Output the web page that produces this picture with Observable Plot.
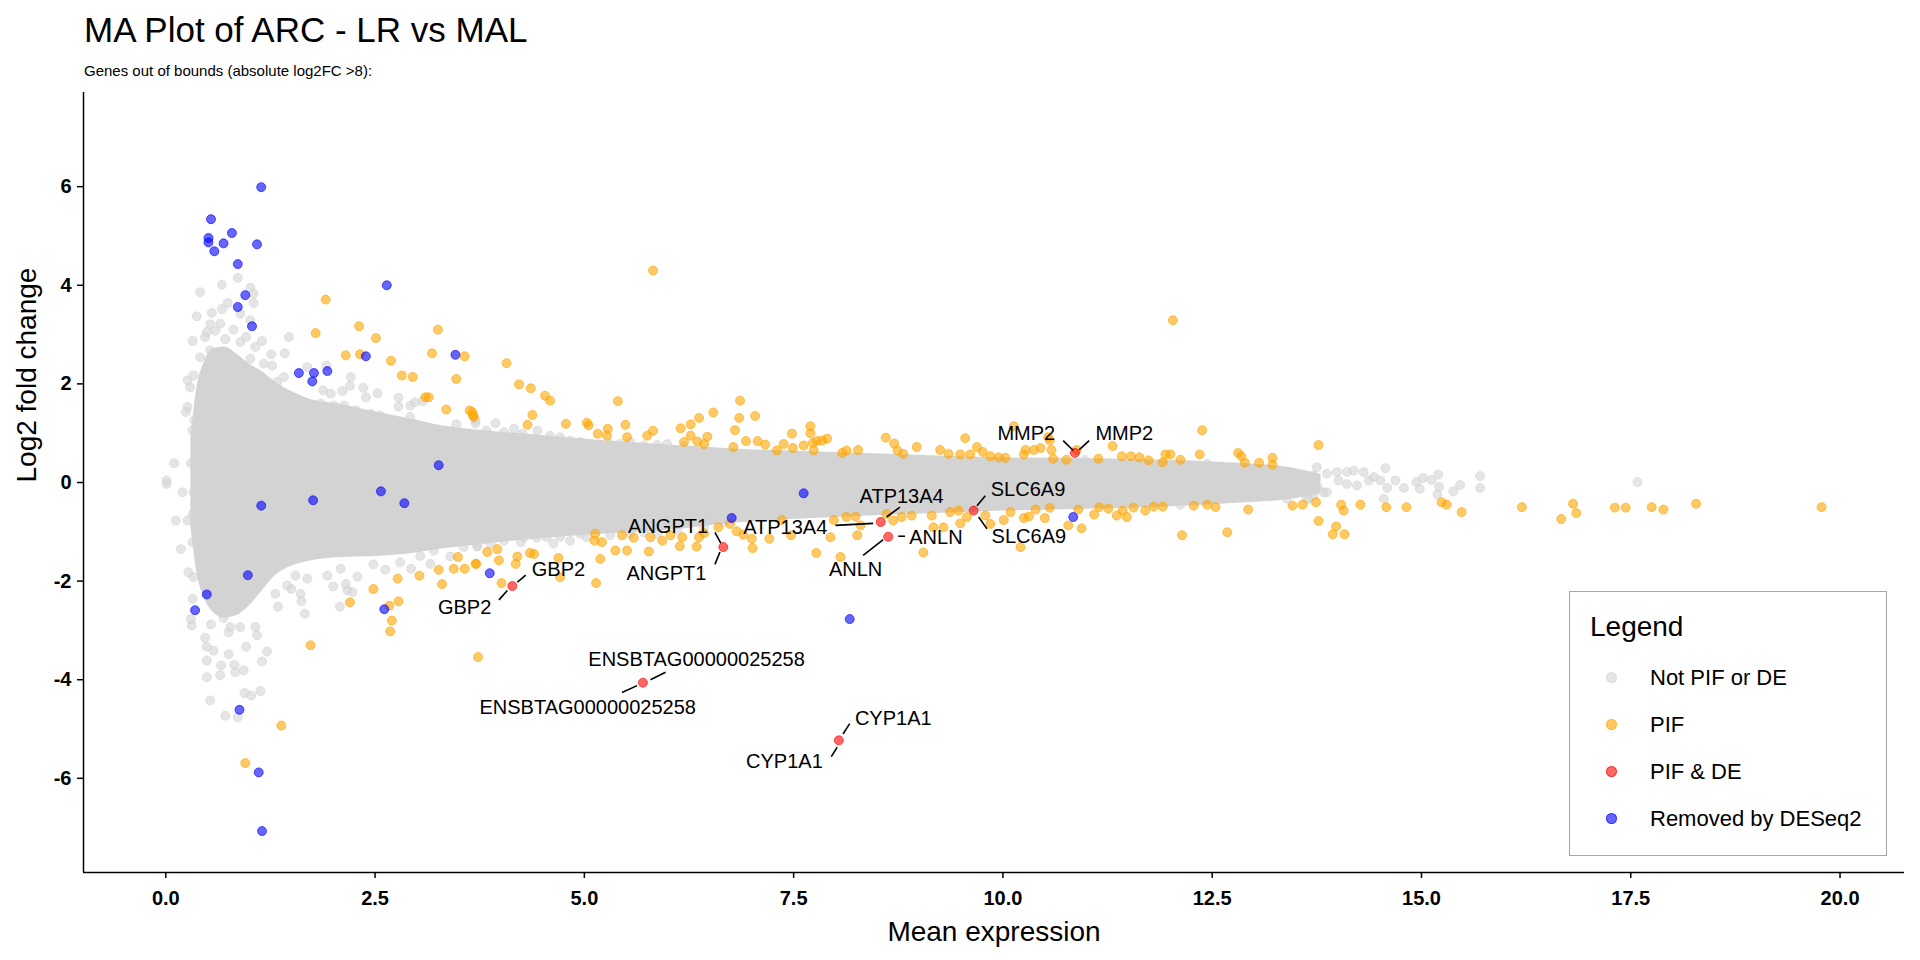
<!DOCTYPE html>
<html><head><meta charset="utf-8">
<script src="https://cdn.jsdelivr.net/npm/d3@7"></script>
<script src="https://cdn.jsdelivr.net/npm/@observablehq/plot@0.6"></script>
<style>
body{margin:0;background:#fff;font-family:"Liberation Sans",Arial,sans-serif;color:#000;}
#wrap{position:relative;width:1920px;height:960px;overflow:hidden;background:#fff;}
#title{position:absolute;left:84px;top:12px;font-size:35px;line-height:35px;white-space:nowrap;}
#subtitle{position:absolute;left:84px;top:63px;font-size:15px;line-height:15px;white-space:nowrap;}
#chart{position:absolute;left:0;top:88px;}
#legend{position:absolute;left:1569px;top:591px;width:316px;height:263px;border:1.5px solid #a6a6a6;background:#fff;}
#legend .lt{position:absolute;left:20px;top:21px;font-size:28px;line-height:28px;white-space:nowrap;}
#legend .it{position:absolute;left:80px;font-size:22px;line-height:22px;white-space:nowrap;}
#legend .dt{position:absolute;width:9px;height:9px;border-radius:50%;border-width:1px;border-style:solid;}
</style></head>
<body><div id="wrap">
<div id="title"></div><div id="subtitle"></div>
<div id="chart"></div>
<div id="legend"></div>
</div>
<script>
const titleText = "MA Plot of ARC - LR vs MAL";
const subtitleText = "Genes out of bounds (absolute log2FC >8):";
const xTitle = "Mean expression";
const yTitle = "Log2 fold change";
const xTicks = [0, 2.5, 5, 7.5, 10, 12.5, 15, 17.5, 20];
const xTickLabels = ["0.0","2.5","5.0","7.5","10.0","12.5","15.0","17.5","20.0"];
const yTicks = [-6, -4, -2, 0, 2, 4, 6];
const yTickLabels = ["-6","-4","-2","0","2","4","6"];
const xDomain = [-0.983, 20.77];
const yDomain = [-7.91, 7.91];

const legendTitle = "Legend";
const categories = ["Not PIF or DE", "PIF", "PIF & DE", "Removed by DESeq2"];
const colors = ["#d3d3d3", "#ffa500", "#ff0000", "#0000ff"];

// dense core of the "Not PIF or DE" cloud: mean expression, upper and lower log2FC
const coreU  = [0.30, 0.38, 0.45, 0.55, 0.70, 0.85, 1.0, 1.15, 1.3, 1.5, 1.7, 2.1, 2.5, 2.9, 3.3, 3.8, 4.4, 5.2, 6.0, 6.8, 7.6, 8.4, 9.2, 10.0, 11.0, 12.0, 12.8, 13.4, 13.8];
const coreHi = [0.9, 2.0, 2.4, 2.7, 2.75, 2.6, 2.4, 2.25, 2.05, 1.85, 1.7, 1.58, 1.43, 1.3, 1.15, 1.05, 0.97, 0.85, 0.76, 0.68, 0.63, 0.59, 0.54, 0.5, 0.48, 0.45, 0.39, 0.31, 0.16];
const coreLo = [-0.9, -1.9, -2.3, -2.6, -2.75, -2.7, -2.5, -2.2, -1.9, -1.7, -1.6, -1.52, -1.5, -1.45, -1.35, -1.25, -1.15, -1.05, -0.97, -0.82, -0.74, -0.68, -0.63, -0.58, -0.54, -0.49, -0.42, -0.35, -0.23];

// individual "Not PIF or DE" genes around the dense core [mean expression, log2FC]
const greyPts = [[0.41,3.86],[0.67,4.01],[0.86,4.15],[1.01,3.95],[1.05,3.83],[1.05,3.64],[0.74,3.64],[0.67,3.52],[0.37,3.37],[0.55,3.44],[0.89,3.42],[1.01,3.29],[0.53,3.21],[0.65,3.22],[0.49,3.05],[0.59,3.08],[0.81,3.10],[0.96,2.95],[0.32,2.87],[0.47,2.95],[0.71,2.91],[0.89,2.85],[1.15,2.87],[1.47,2.95],[1.07,2.75],[0.41,2.54],[0.53,2.68],[0.61,2.58],[0.75,2.54],[1.01,2.51],[1.26,2.60],[1.42,2.62],[1.17,2.41],[1.27,2.37],[1.69,2.34],[1.92,2.37],[0.26,2.07],[0.29,1.93],[0.33,2.17],[1.41,2.14],[1.33,2.04],[2.21,2.14],[2.20,1.96],[2.11,1.85],[2.36,1.92],[2.53,1.81],[2.39,1.73],[2.78,1.72],[2.92,1.56],[2.98,1.63],[2.78,1.54],[0.26,1.53],[0.24,1.43],[0.32,1.06],[0.34,1.26],[0.10,0.39],[0.30,0.39],[0.01,0.04],[1.88,1.87],[1.97,1.80],[1.85,1.60],[2.01,1.56],[2.13,1.56],[2.27,1.46],[2.45,1.39],[2.56,1.36],[2.72,1.22],[2.84,1.19],[2.92,1.33],
[0.01,-0.03],[0.20,-0.20],[0.33,-0.20],[0.12,-0.77],[0.26,-0.77],[0.32,-0.64],[0.18,-1.35],[0.32,-1.21],[0.27,-1.82],[0.33,-1.92],[0.32,-2.36],[0.30,-2.77],[0.31,-2.90],[0.47,-3.15],[0.49,-3.33],[0.57,-3.41],[0.49,-3.61],[0.66,-3.71],[0.65,-3.91],[0.49,-3.95],[0.75,-3.48],[0.82,-3.70],[0.83,-3.85],[0.93,-3.81],[0.96,-3.33],[1.15,-3.63],[1.21,-3.43],[1.09,-3.10],[1.07,-2.93],[0.89,-2.93],[0.77,-2.93],[0.54,-2.88],[0.69,-2.75],[0.75,-3.04],[0.98,-2.26],[1.31,-2.26],[1.34,-2.52],[1.45,-2.09],[1.50,-2.16],[1.61,-2.26],[1.62,-2.41],[1.66,-2.66],[2.00,-2.11],[2.08,-2.52],[2.17,-2.19],[2.23,-2.22],[2.29,-1.91],[2.15,-2.06],[1.69,-1.95],[1.55,-1.89],[1.93,-1.89],[2.09,-1.75],[2.48,-1.66],[2.62,-1.77],[2.80,-1.62],[2.93,-1.75],
[0.94,-4.27],[1.02,-4.32],[1.13,-4.23],[0.53,-4.42],[0.71,-4.73],[0.86,-4.76],
[3.07,1.65],[3.47,1.18],[3.70,1.20],[3.04,-1.49],[3.16,-1.65],[3.40,-1.50],[3.72,-1.30],[3.08,1.12],[3.20,1.05],[3.32,1.02],[3.56,0.99],[3.68,0.85],[3.20,-1.38],[3.56,-1.31],
[3.94,1.20],[4.16,1.09],[3.83,1.05],[4.44,1.05],[4.59,0.95],[4.71,0.92],[3.70,1.26],[4.04,1.02],[4.26,0.99],[4.83,0.85],[4.95,0.82],[5.19,0.72],[5.31,0.78],[5.43,0.78],[5.51,0.72],[5.55,0.82],[5.71,0.75],[5.87,0.76],[5.99,0.78],[6.19,0.72],
[3.72,-1.28],[3.88,-1.24],[4.04,-1.18],[4.24,-1.21],[4.28,-1.11],[4.43,-1.12],[4.55,-1.11],[4.63,-1.24],[4.71,-1.10],[4.83,-1.18],[4.95,-1.04],[5.03,-1.11],[5.31,-1.07],[5.55,-1.04],[5.71,-1.01],[5.87,-1.04],[6.11,-0.97],[6.43,-0.91],[6.66,-0.80],
[12.44,0.38],[13.75,0.31],[13.87,0.18],[13.99,0.21],[14.11,0.21],[14.19,0.24],[14.31,0.21],[14.57,0.29],[14.01,0.04],[14.11,-0.03],[14.23,-0.06],[14.37,0.04],[14.43,0.11],[14.51,0.04],[14.59,-0.11],[14.69,0.04],[14.79,-0.11],[14.94,0.01],[14.98,-0.13],[15.02,0.09],[15.12,0.05],[15.20,0.16],[15.21,-0.09],[15.19,-0.24],[15.38,-0.18],[15.46,-0.05],[15.70,0.13],[15.70,-0.11],[14.55,-0.33],[13.87,-0.20],[13.65,-0.33],[13.39,-0.33],[10.98,0.46],[11.24,0.38],[12.60,0.28],[12.75,0.28],[13.03,0.21],[13.15,0.19],[13.33,0.21],[13.55,0.16],[13.71,0.14],[12.12,-0.45],[12.87,-0.30],[13.11,-0.26],[13.63,-0.33],[13.71,-0.26],[13.83,-0.20],[13.55,-0.03],[13.67,0.04],[13.76,-0.10],[17.58,0.01]];

// "PIF" genes
const pifPts = [[1.91,3.71],[1.79,3.03],[2.31,3.17],[2.51,2.93],[2.15,2.58],[2.32,2.60],[2.69,2.47],[2.82,2.17],[2.95,2.14],[3.10,1.73],[3.14,1.73],[3.25,3.10],[3.18,2.62],[3.57,2.56],[3.47,2.10],[3.35,1.48],[3.63,1.46],[3.67,1.36],
[3.49,-1.51],[3.26,-1.77],[3.44,-1.75],[3.57,-1.75],[3.70,-1.65],[3.30,-2.06],[3.03,-1.89],[2.77,-1.95],[2.48,-2.16],[2.20,-2.43],[2.67,-2.50],[2.78,-2.41],[2.70,-2.80],[2.68,-3.02],[1.73,-3.30],[3.73,-3.54],[1.38,-4.93],[0.95,-5.69],
[5.82,4.30],[4.07,2.42],[4.22,1.99],[4.36,1.91],[4.53,1.76],[4.59,1.66],[5.40,1.65],[4.38,1.37],[4.32,1.17],[3.66,1.43],[3.68,1.33],[4.78,1.19],[5.03,1.21],[5.05,1.16],[5.16,0.99],[5.28,1.09],[5.27,0.95],[5.49,1.17],[5.51,0.92],[5.75,0.95],[5.82,1.05],[6.15,1.10],[6.27,1.18],[6.37,1.31],[6.54,1.42],[6.27,0.95],[6.19,0.82],[6.35,0.83],[6.47,0.93],[6.43,0.78],[6.86,1.66],[6.85,1.31],[7.04,1.35],[6.80,1.06],[6.93,0.84],[7.07,0.84],[6.78,0.72],[7.16,0.77],[7.38,0.78],[7.48,0.99],[7.49,0.70],[7.70,1.14],[7.70,1.00],[7.62,0.75],[7.73,0.80],[7.78,0.84],[7.84,0.85],[7.90,0.89],[7.74,0.65],[8.08,0.60],[8.13,0.65],[8.27,0.66],[8.60,0.91],[8.70,0.79],[8.74,0.65],[8.81,0.58],[8.97,0.72],[9.25,0.66],[9.35,0.58],[9.49,0.57],[9.55,0.90],[9.61,0.57],[9.69,0.72],[7.30,0.65],
[3.84,-1.41],[3.71,-1.65],[3.96,-1.35],[3.98,-1.58],[4.20,-1.50],[4.18,-1.65],[4.35,-1.43],[4.40,-1.45],[4.69,-1.53],[4.71,-1.92],[4.01,-2.04],[5.13,-1.04],[5.12,-1.18],[5.21,-1.21],[5.19,-1.55],[5.14,-2.04],[5.37,-1.38],[5.45,-1.07],[5.51,-1.38],[5.59,-1.12],[5.77,-1.40],[5.79,-1.11],[5.93,-1.18],[6.03,-1.07],[6.14,-1.29],[6.17,-1.11],[6.34,-1.30],[6.37,-1.11],[6.43,-1.03],[6.60,-0.91],[6.74,-0.84],[6.82,-0.99],[6.90,-1.06],[7.00,-1.14],[7.01,-1.33],[7.21,-1.14],[7.36,-0.76],[7.47,-1.07],[7.77,-1.43],[7.94,-1.11],[7.98,-0.76],[8.06,-1.51],[8.13,-0.70],[8.26,-1.07],[8.30,-0.87],[8.24,-0.69],[8.61,-0.64],[8.69,-0.77],[8.79,-0.70],[8.91,-0.67],[9.05,-1.42],[9.15,-0.67],[9.17,-0.91],[9.29,-0.91],[9.37,-0.60],[9.47,-0.57],[9.49,-0.83],[9.57,-0.70],
[9.76,0.62],[9.85,0.53],[9.95,0.51],[10.03,0.50],[10.27,0.66],[10.25,0.57],[10.37,0.66],[10.45,0.70],[10.56,0.85],[10.58,0.66],[10.60,0.48],[10.76,0.46],[10.88,0.66],[11.14,0.48],[11.31,0.74],[11.42,0.53],[11.53,0.53],[11.63,0.51],[11.74,0.45],[11.91,0.41],[11.94,0.57],[12.00,0.57],[12.12,0.46],[12.35,0.57],[12.81,0.60],[12.85,0.53],[12.89,0.40],[13.06,0.40],[13.22,0.50],[13.22,0.36],[10.13,1.14],[10.54,0.92],[12.03,3.29],[12.38,1.06],[13.77,0.76],
[9.79,-0.67],[9.85,-0.84],[10.01,-0.76],[10.09,-0.60],[10.25,-0.72],[10.31,-0.69],[10.21,-1.31],[10.39,-0.55],[10.50,-0.72],[10.56,-0.51],[10.78,-0.87],[10.94,-0.93],[10.90,-0.55],[11.09,-0.65],[11.15,-0.50],[11.26,-0.53],[11.36,-0.67],[11.43,-0.57],[11.48,-0.70],[11.56,-0.51],[11.70,-0.57],[11.80,-0.49],[11.91,-0.49],[12.14,-1.07],[12.28,-0.47],[12.44,-0.45],[12.54,-0.50],[12.68,-1.01],[12.93,-0.55],[13.46,-0.47],[13.58,-0.45],[13.74,-0.40],[13.77,-0.78],[13.98,-0.89],[13.94,-1.05],[14.08,-1.05],[14.04,-0.45],[14.07,-0.57],[14.27,-0.45],[14.58,-0.50],
[14.82,-0.50],[15.24,-0.40],[15.30,-0.45],[15.48,-0.60],[16.20,-0.50],[16.67,-0.74],[16.81,-0.43],[16.85,-0.62],[17.31,-0.51],[17.44,-0.51],[17.75,-0.50],[17.89,-0.55],[18.28,-0.43],[19.78,-0.50]];

// "Removed by DESeq2" genes
const removedPts = [[1.14,5.99],[0.54,5.34],[0.51,4.96],[0.51,4.87],[0.58,4.69],[0.69,4.85],[0.79,5.06],[1.09,4.83],[0.86,4.43],[0.95,3.80],[0.86,3.56],[1.03,3.17],[2.64,4.00],[2.39,2.56],[3.46,2.59],[1.59,2.22],[1.77,2.22],[1.93,2.26],[1.75,2.05],[3.26,0.35],[1.14,-0.47],[1.76,-0.36],[2.57,-0.18],[2.85,-0.42],[0.98,-1.88],[0.49,-2.27],[0.35,-2.59],[2.61,-2.57],[3.87,-1.84],[6.76,-0.72],[7.62,-0.22],[8.17,-2.77],[10.84,-0.70],[0.88,-4.61],[1.11,-5.88],[1.15,-7.07]];

// "PIF & DE" genes
const deGenes = ["GBP2","ANGPT1","ATP13A4","ANLN","SLC6A9","MMP2","ENSBTAG00000025258","CYP1A1"];
const deMean  = [4.14, 6.66, 8.54, 8.63, 9.65, 10.86, 5.70, 8.04];
const deLfc   = [-2.10, -1.31, -0.80, -1.10, -0.57, 0.60, -4.06, -5.23];

// repelled labels (two per gene) and their leader segments, in data units
const labelGene = ["GBP2","GBP2","ANGPT1","ANGPT1","ATP13A4","ATP13A4","ANLN","ANLN","SLC6A9","SLC6A9","MMP2","MMP2","ENSBTAG00000025258","ENSBTAG00000025258","CYP1A1","CYP1A1"];
const labelX = [4.69, 3.57, 6.00, 5.98, 7.40, 8.79, 9.20, 8.24, 10.30, 10.31, 10.28, 11.45, 6.34, 5.04, 8.69, 7.39];
const labelY = [-1.76, -2.54, -0.89, -1.84, -0.91, -0.28, -1.12, -1.76, -0.14, -1.09, 0.99, 0.99, -3.59, -4.56, -4.78, -5.67];
const segX1 = [4.20, 3.98, 6.56, 6.56, 8.00, 8.61, 8.75, 8.33, 9.69, 9.71, 10.72, 10.91, 5.79, 5.45, 8.09, 7.95];
const segY1 = [-2.02, -2.38, -1.01, -1.66, -0.87, -0.70, -1.09, -1.48, -0.47, -0.70, 0.85, 0.66, -4.00, -4.26, -5.10, -5.56];
const segX2 = [4.30, 4.08, 6.63, 6.62, 8.45, 8.77, 8.83, 8.57, 9.79, 9.81, 10.84, 11.03, 5.97, 5.63, 8.17, 8.02];
const segY2 = [-1.88, -2.19, -1.23, -1.41, -0.83, -0.50, -1.09, -1.16, -0.27, -0.94, 0.65, 0.85, -3.85, -4.12, -4.89, -5.37];

// ---- build tables
const core = coreU.map((u, i) => ({u, hi: coreHi[i], lo: coreLo[i]}));
const toRows = pts => pts.map(([u, v]) => ({u, v}));
const grey = toRows(greyPts), pif = toRows(pifPts), removed = toRows(removedPts);
const de = deGenes.map((g, i) => ({gene: g, u: deMean[i], v: deLfc[i]}));
const labels = labelGene.map((g, i) => ({g, x: labelX[i], y: labelY[i]}));
const segs = labelGene.map((g, i) => ({x1: segX1[i], y1: segY1[i], x2: segX2[i], y2: segY2[i]}));

const dotOpts = c => ({x: "u", y: "v", r: 4.5, fill: c, fillOpacity: 0.6, stroke: c, strokeOpacity: 0.6, strokeWidth: 1});
const FONT = '"Liberation Sans", Arial, sans-serif';

document.getElementById("title").textContent = titleText;
document.getElementById("subtitle").textContent = subtitleText;

const chart = Plot.plot({
  width: 1920, height: 872,
  marginTop: 4, marginRight: 16, marginBottom: 88, marginLeft: 83,
  style: {fontFamily: FONT, color: "#000", background: "transparent", overflow: "visible"},
  x: {domain: xDomain},
  y: {domain: yDomain},
  marks: [
    Plot.areaY(core, {x: "u", y1: "lo", y2: "hi", fill: colors[0], curve: "monotone-x"}),
    Plot.dot(grey, dotOpts(colors[0])),
    Plot.dot(pif, dotOpts(colors[1])),
    Plot.dot(removed, dotOpts(colors[3])),
    Plot.dot(de, dotOpts(colors[2])),
    Plot.link(segs, {x1: "x1", y1: "y1", x2: "x2", y2: "y2", stroke: "#000", strokeWidth: 1.6}),
    Plot.text(labels, {x: "x", y: "y", text: "g", fontSize: 20, fill: "#000"}),
    Plot.ruleX([xDomain[0]], {stroke: "#000", strokeWidth: 1.5}),
    Plot.ruleY([yDomain[0]], {stroke: "#000", strokeWidth: 1.5}),
    Plot.axisX({ticks: xTicks, tickFormat: d => xTickLabels[xTicks.indexOf(d)], tickSize: 6, tickPadding: 12, fontSize: 20, fontWeight: "bold", strokeWidth: 1.5, label: null}),
    Plot.axisY({ticks: yTicks, tickFormat: d => yTickLabels[yTicks.indexOf(d)], tickSize: 6, tickPadding: 6, fontSize: 20, fontWeight: "bold", strokeWidth: 1.5, label: null}),
    Plot.text([xTitle], {frameAnchor: "bottom", dy: 68, fontSize: 28, text: d => d}),
    Plot.text([yTitle], {frameAnchor: "left", dx: -56, rotate: -90, fontSize: 28, text: d => d})
  ]
});
document.getElementById("chart").appendChild(chart);

// legend
const lg = document.getElementById("legend");
const lt = document.createElement("div"); lt.className = "lt"; lt.textContent = legendTitle; lg.appendChild(lt);
const legendRow0 = 85.5, legendStep = 47;
categories.forEach((c, i) => {
  const cy = legendRow0 + i * legendStep;
  const d = document.createElement("div"); d.className = "dt";
  const col = d3.color(colors[i]); col.opacity = 0.6;
  d.style.background = col.formatRgb(); d.style.borderColor = col.formatRgb();
  d.style.left = (41.5 - 5.5) + "px"; d.style.top = (cy - 5.5) + "px";
  lg.appendChild(d);
  const t = document.createElement("div"); t.className = "it"; t.textContent = c;
  t.style.top = (cy - 11) + "px";
  lg.appendChild(t);
});
</script>
</body></html>
